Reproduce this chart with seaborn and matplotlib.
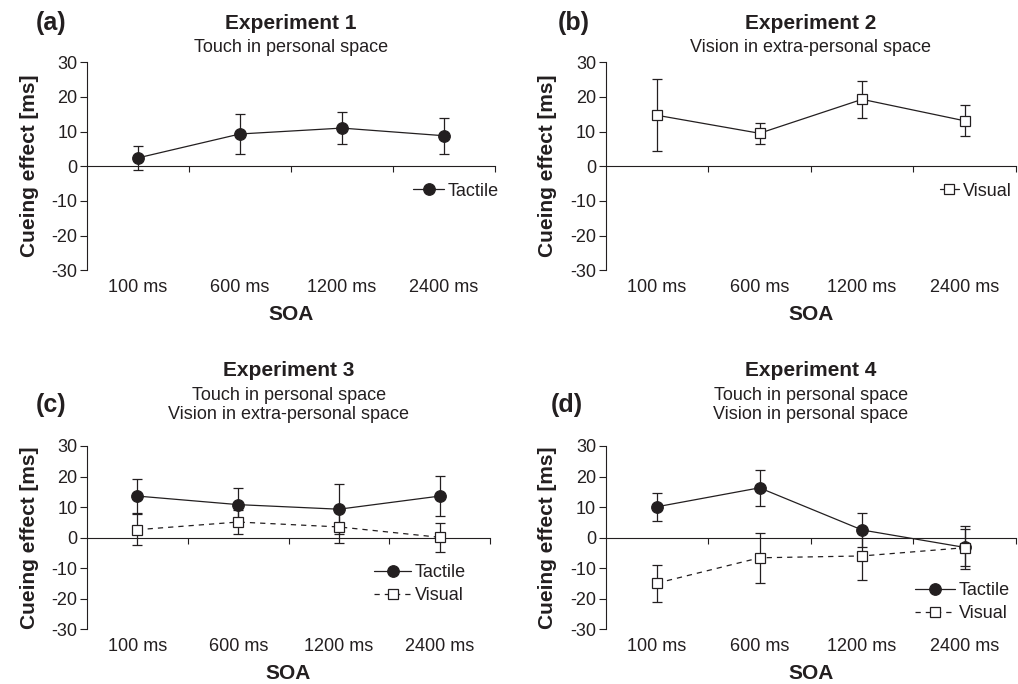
"""
Cueing effects per SOA for four experiments (tactile / visual cues)
- 2x2 panel figure, means with error bars
"""
import numpy as np
import pandas as pd
import matplotlib
matplotlib.use('Agg')
import matplotlib.pyplot as plt
import seaborn as sns

# 1. Data
soa_labels = ['100 ms', '600 ms', '1200 ms', '2400 ms']

exp1_tactile = [2.4, 9.3, 11.0, 8.8]
exp1_tactile_err = [3.5, 5.7, 4.6, 5.2]

exp2_visual = [14.7, 9.5, 19.3, 13.1]
exp2_visual_err = [10.4, 3.1, 5.3, 4.5]

exp3_tactile = [13.6, 10.8, 9.3, 13.6]
exp3_tactile_err = [5.7, 5.5, 8.1, 6.5]
exp3_visual = [2.6, 5.1, 3.5, 0.1]
exp3_visual_err = [5.1, 4.0, 5.1, 4.7]

exp4_tactile = [10.1, 16.3, 2.5, -3.2]
exp4_tactile_err = [4.6, 5.8, 5.6, 7.0]
exp4_visual = [-14.9, -6.6, -6.0, -3.3]
exp4_visual_err = [6.1, 8.1, 7.9, 6.0]

INK = '#231f20'
DASHED = (0, (4.2, 4))
STYLES = {
    'Tactile': dict(marker='o', markersize=8.3, markerfacecolor=INK),
    'Visual': dict(marker='s', markersize=7.8, markerfacecolor='white'),
}

# 2. Panel layout: figure-fraction rects plus text / legend placement
panels = [
    dict(letter='(a)', title='Experiment 1', sub='Touch in personal space',
         series=[('Tactile', exp1_tactile, exp1_tactile_err, '-')],
         rect=[0.0855, 0.605, 0.4005, 0.304], title_y=0.966, sub_y=0.931, letter_xy=(0.050, 0.966),
         leg_anchor=(1.01, 0.38), handlelength=1.7),
    dict(letter='(b)', title='Experiment 2', sub='Vision in extra-personal space',
         series=[('Visual', exp2_visual, exp2_visual_err, '-')],
         rect=[0.595, 0.605, 0.403, 0.304], title_y=0.966, sub_y=0.931, letter_xy=(0.564, 0.966),
         leg_anchor=(0.99, 0.38), handlelength=1.1),
    dict(letter='(c)', title='Experiment 3', sub='Touch in personal space\nVision in extra-personal space',
         series=[('Tactile', exp3_tactile, exp3_tactile_err, '-'),
                 ('Visual', exp3_visual, exp3_visual_err, DASHED)],
         rect=[0.0855, 0.080, 0.396, 0.268], title_y=0.459, sub_y=0.408, letter_xy=(0.050, 0.408),
         leg_anchor=(0.94, 0.246), handlelength=2.05),
    dict(letter='(d)', title='Experiment 4', sub='Touch in personal space\nVision in personal space',
         series=[('Tactile', exp4_tactile, exp4_tactile_err, '-'),
                 ('Visual', exp4_visual, exp4_visual_err, DASHED)],
         rect=[0.595, 0.080, 0.403, 0.268], title_y=0.459, sub_y=0.408, letter_xy=(0.557, 0.408),
         leg_anchor=(0.985, 0.148), handlelength=2.2),
]


def draw_series(ax, name, vals, errs, ls):
    df = pd.DataFrame({'pos': np.arange(len(soa_labels)), 'effect': vals, 'err': errs})
    ax.errorbar(df['pos'], df['effect'], yerr=df['err'], fmt='none', ecolor=INK,
                elinewidth=0.9, capsize=3.6, capthick=0.9, zorder=2)
    st = STYLES[name]
    sns.lineplot(data=df, x='pos', y='effect', ax=ax, color=INK, linewidth=0.9,
                 marker=st['marker'], markersize=st['markersize'],
                 markerfacecolor=st['markerfacecolor'], markeredgecolor=INK,
                 markeredgewidth=0.9, linestyle=ls, zorder=3)
    return ax.lines[-1]


def draw_panel(fig, p):
    ax = fig.add_axes(p['rect'])
    handles = []
    for name, vals, errs, ls in p['series']:
        h = draw_series(ax, name, vals, errs, ls)
        h.set_label(name)
        handles.append(h)

    ax.set_xlim(-0.5, len(soa_labels) - 0.5)
    ax.set_ylim(-30, 30)
    ax.set_yticks(range(-30, 31, 10))
    ax.set_xticks(np.arange(len(soa_labels)), soa_labels)
    for s in ['top', 'right', 'bottom']:
        ax.spines[s].set_visible(False)
    ax.spines['left'].set_color(INK)
    ax.spines['left'].set_linewidth(0.8)
    ax.tick_params(axis='x', length=0, pad=6, labelsize=13, labelcolor=INK)
    ax.tick_params(axis='y', direction='out', length=5, width=0.8, color=INK, pad=2,
                   labelsize=13, labelcolor=INK)
    ax.set_xlabel('SOA', fontsize=15, fontweight='bold', color=INK, labelpad=7)
    ax.set_ylabel('Cueing effect [ms]', fontsize=15, fontweight='bold', color=INK, labelpad=9)

    # zero line with category separator ticks
    sec = ax.secondary_xaxis(0, transform=ax.transData)
    sec.set_xticks(np.arange(len(soa_labels)) + 0.5)
    sec.tick_params(axis='x', direction='out', length=4.5, width=0.8, color=INK, labelbottom=False)
    for sp in sec.spines.values():
        sp.set_color(INK)
        sp.set_linewidth(0.8)

    leg = ax.legend(handles=handles, loc='center right', bbox_to_anchor=p['leg_anchor'],
                    frameon=False, fontsize=13, handlelength=p['handlelength'],
                    handletextpad=0.2, labelspacing=0.3, borderpad=0, borderaxespad=0)
    for t in leg.get_texts():
        t.set_color(INK)

    # titles and panel letter
    cx = p['rect'][0] + p['rect'][2] / 2
    fig.text(cx, p['title_y'], p['title'], ha='center', va='center', fontsize=15,
             fontweight='bold', color=INK)
    fig.text(cx, p['sub_y'], p['sub'], ha='center', va='center', fontsize=13,
             color=INK, linespacing=1.2)
    fig.text(*p['letter_xy'], p['letter'], ha='center', va='center', fontsize=18,
             fontweight='bold', color=INK)
    return ax


if __name__ == "__main__":
    sns.set_style('ticks')
    plt.rcParams['font.family'] = ['Liberation Sans', 'DejaVu Sans']
    plt.rcParams['axes.unicode_minus'] = False
    fig = plt.figure(figsize=(10.18, 6.84), dpi=100)
    for p in panels:
        draw_panel(fig, p)
    fig.savefig('out.png', dpi=100, facecolor='white')
    plt.close(fig)
